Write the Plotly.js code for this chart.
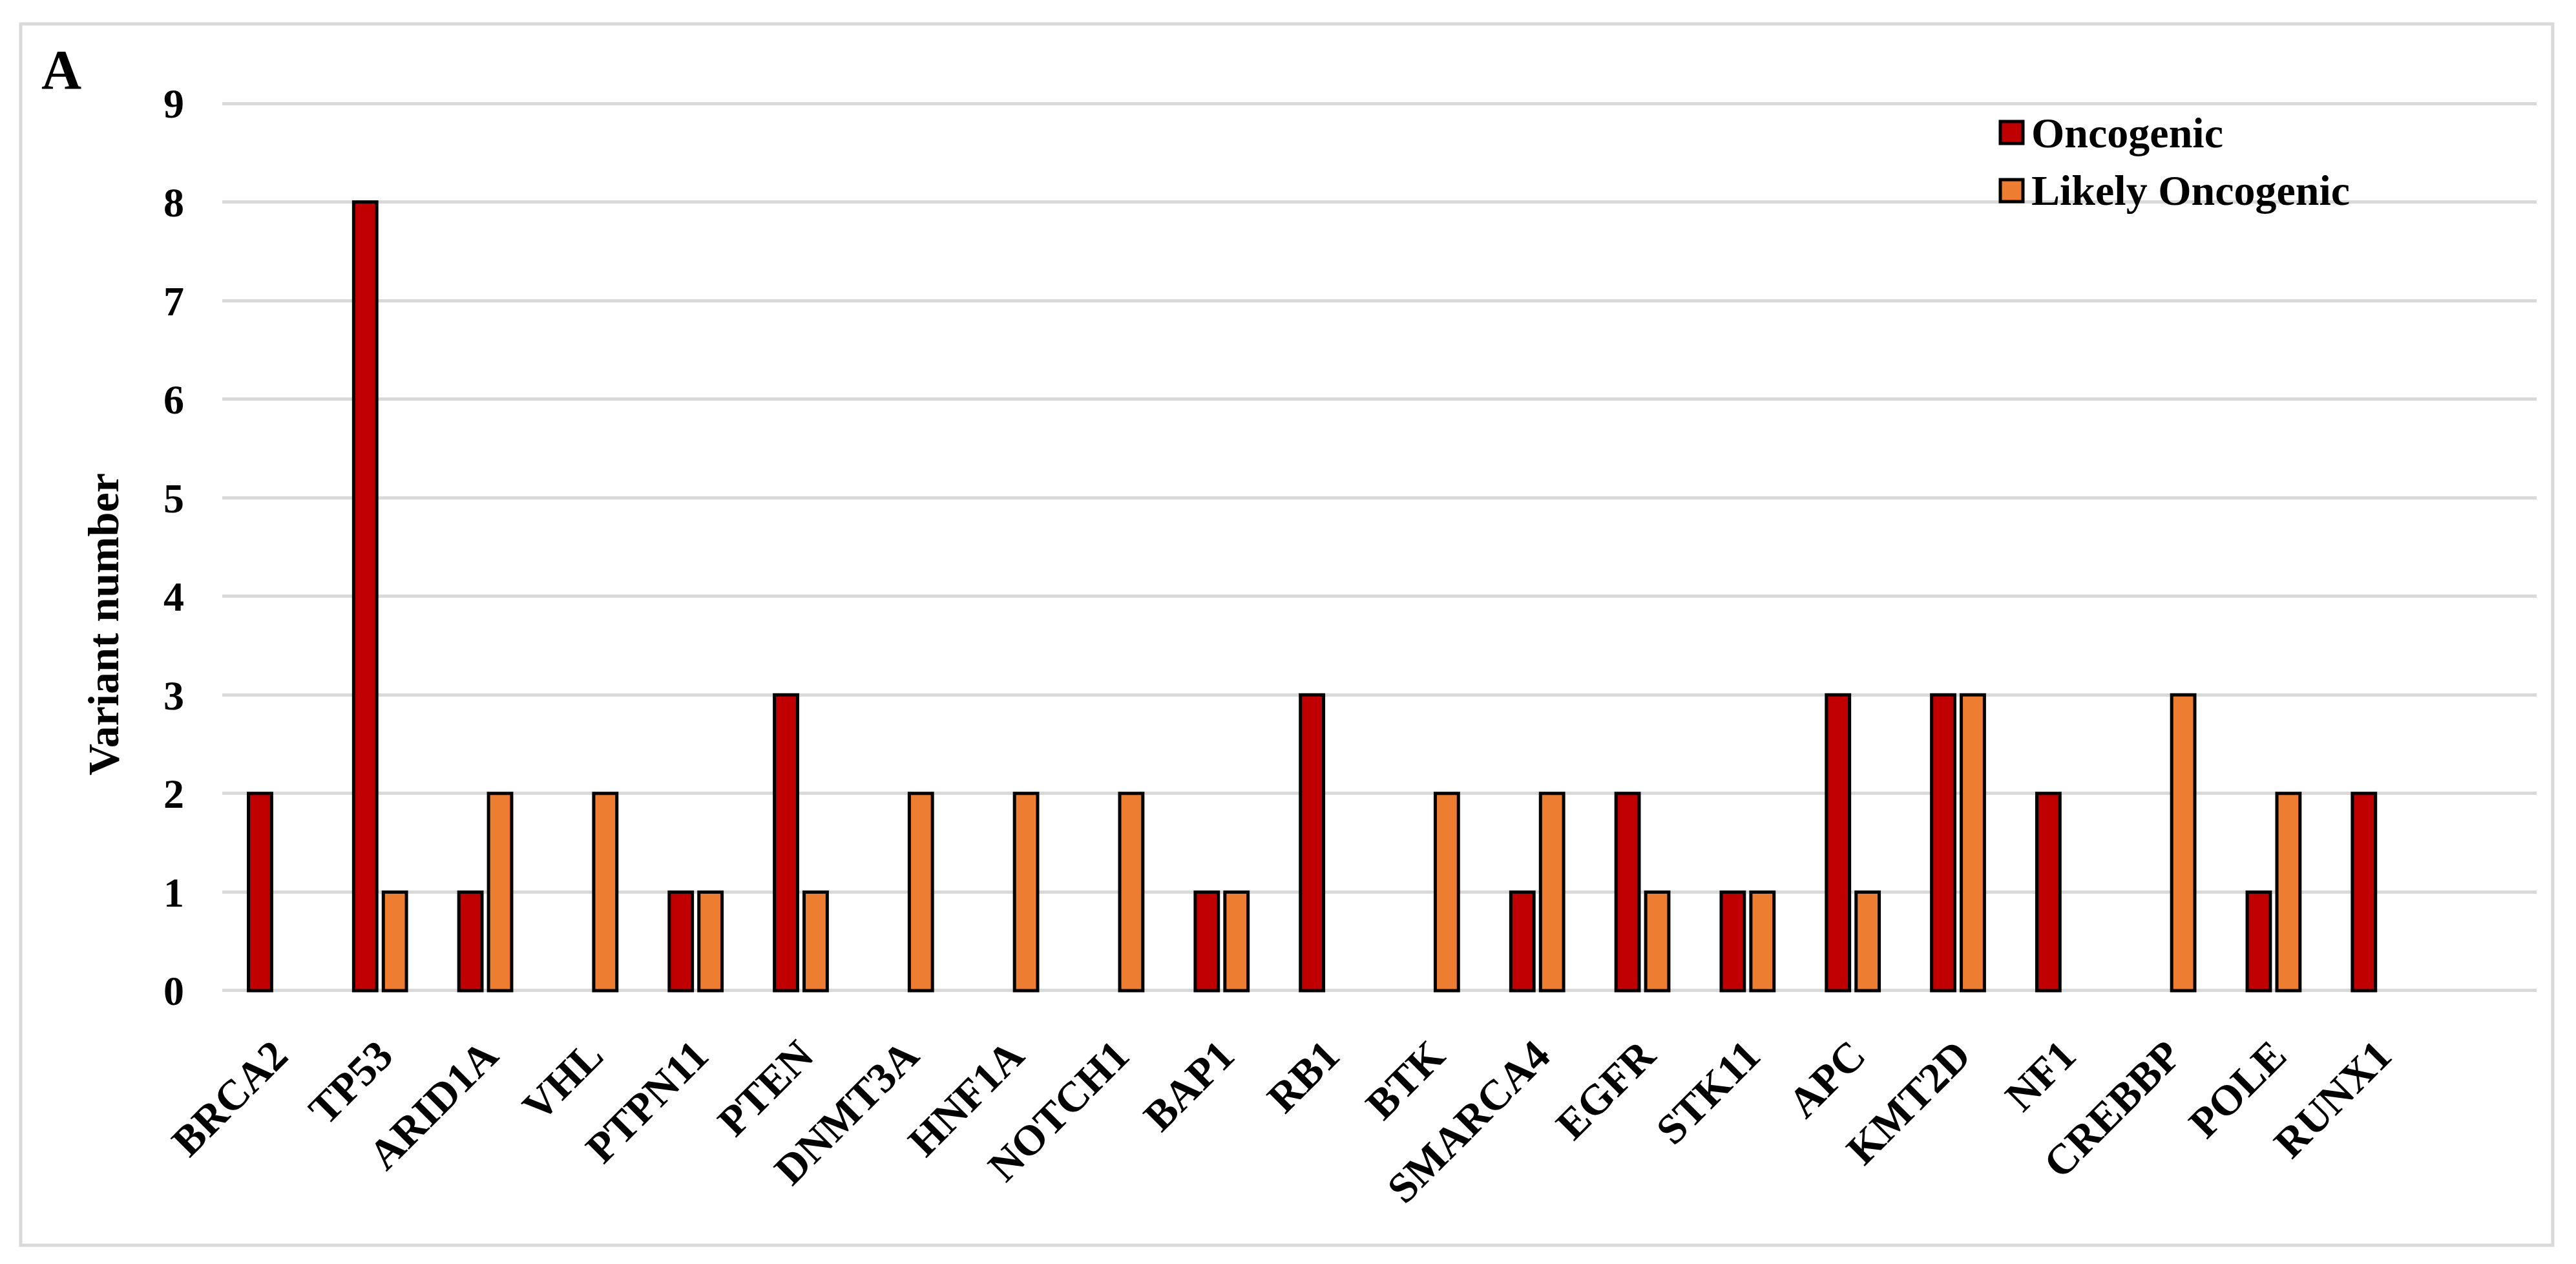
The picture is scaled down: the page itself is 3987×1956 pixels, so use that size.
<!DOCTYPE html>
<html>
<head>
<meta charset="utf-8">
<script src="https://cdn.plot.ly/plotly-3.0.1.min.js"></script>
<style>
  html, body { margin: 0; padding: 0; background: #fff; }
  #divplot { width: 3987px; height: 1956px; }
</style>
</head>
<body>
<div id="divplot"></div>
<script>
var genes = ['BRCA2', 'TP53', 'ARID1A', 'VHL', 'PTPN11', 'PTEN', 'DNMT3A', 'HNF1A', 'NOTCH1', 'BAP1', 'RB1',
             'BTK', 'SMARCA4', 'EGFR', 'STK11', 'APC', 'KMT2D', 'NF1', 'CREBBP', 'POLE', 'RUNX1'];
var oncogenic = [2, 8, 1, null, 1, 3, null, null, null, 1, 3, null, 1, 2, 1, 3, 3, 2, null, 1, 2];
var likelyOncogenic = [null, 1, 2, 2, 1, 1, 2, 2, 2, 1, null, 2, 2, 1, 1, 1, 3, null, 3, 2, null];
var seriesNames = ['Oncogenic', 'Likely Oncogenic'];
var seriesColors = ['#C00000', '#ED7D31'];
var yTicks = [0, 1, 2, 3, 4, 5, 6, 7, 8, 9];

var W = 3987, H = 1956;
var plotL = 344, plotR = 3926, plotT = 157, plotB = 1536;
var fontFam = '"Liberation Serif", "Times New Roman", Times, serif';
var boldFont = function(sz) { return { family: fontFam, size: sz, color: '#000', weight: 'bold' }; };

// pixel -> paper helpers (for frame / legend / labels only)
function px(x) { return (x - plotL) / (plotR - plotL); }
function py(y) { return (plotB - y) / (plotB - plotT); }

var trace1 = {
    x: genes,
    y: oncogenic,
    name: seriesNames[0],
    type: 'bar',
    marker: { color: seriesColors[0], line: { color: '#000000', width: 5 } }
};
var trace2 = {
    x: genes,
    y: likelyOncogenic,
    name: seriesNames[1],
    type: 'bar',
    marker: { color: seriesColors[1], line: { color: '#000000', width: 5 } }
};

var traceData = [trace1, trace2];

var shapes = [
    // outer frame
    { type: 'rect', xref: 'paper', yref: 'paper', x0: px(32), x1: px(3951), y0: py(1927), y1: py(37),
      line: { color: '#D9D9D9', width: 5 }, fillcolor: 'rgba(0,0,0,0)', layer: 'below' }
];
var annotations = [
    { xref: 'paper', yref: 'paper', x: px(95), y: py(108), text: 'A', showarrow: false,
      xanchor: 'center', yanchor: 'middle', font: boldFont(86) },
    // y title sits below the middle of the axis in the original
    { xref: 'paper', yref: 'paper', x: px(160), y: py(966), text: 'Variant number', showarrow: false,
      textangle: -90, xanchor: 'center', yanchor: 'middle', font: boldFont(68) }
];
// legend built by hand so the swatches can be as large as the reference
var legRows = [205, 295];
for (var i = 0; i < seriesNames.length; i++) {
    shapes.push({ type: 'rect', xref: 'paper', yref: 'paper',
        x0: px(3096), x1: px(3131), y0: py(legRows[i] + 17), y1: py(legRows[i] - 17),
        fillcolor: seriesColors[i], line: { color: '#000', width: 5 } });
    annotations.push({ xref: 'paper', yref: 'paper', x: px(3142), y: py(legRows[i]), text: seriesNames[i],
        showarrow: false, xanchor: 'left', yanchor: 'middle', font: boldFont(66) });
}

var layout = {
    width: W,
    height: H,
    margin: { l: plotL, r: W - plotR, t: plotT, b: H - plotB, pad: 0 },
    paper_bgcolor: '#ffffff',
    plot_bgcolor: '#ffffff',
    barmode: 'group',
    bargap: 0.436,
    bargroupgap: 0.22,
    showlegend: false,
    font: boldFont(64),
    xaxis: {
        type: 'category',
        range: [-0.5, 21.5],
        showgrid: false,
        showline: false,
        zeroline: false,
        ticks: '',
        tickangle: -45,
        ticklabelstandoff: 44,
        tickfont: boldFont(66)
    },
    yaxis: {
        range: [-0.02, 9.02],
        tickvals: yTicks,
        showgrid: true,
        gridcolor: '#D9D9D9',
        gridwidth: 5,
        zeroline: true,
        zerolinecolor: '#D9D9D9',
        zerolinewidth: 5,
        showline: false,
        ticks: '',
        ticklabelstandoff: 58,
        tickfont: boldFont(64)
    },
    shapes: shapes,
    annotations: annotations
};

Plotly.newPlot('divplot', traceData, layout, { staticPlot: true });
</script>
</body>
</html>
